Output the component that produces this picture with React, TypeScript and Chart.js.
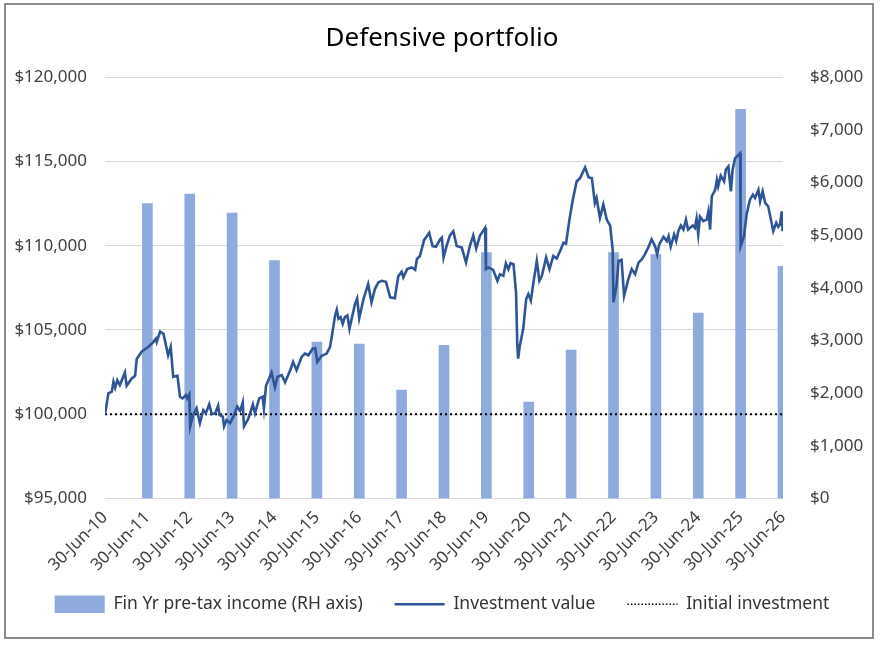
import { useEffect, useRef } from 'react';
import { Chart, registerables } from 'chart.js';

Chart.register(...registerables);

// x positions are years after 30-Jun-10
const tickLabels = [
  '30-Jun-10', '30-Jun-11', '30-Jun-12', '30-Jun-13', '30-Jun-14', '30-Jun-15',
  '30-Jun-16', '30-Jun-17', '30-Jun-18', '30-Jun-19', '30-Jun-20', '30-Jun-21',
  '30-Jun-22', '30-Jun-23', '30-Jun-24', '30-Jun-25', '30-Jun-26',
];

const incomeYears = [1, 2, 3, 4, 5, 6, 7, 8, 9, 10, 11, 12, 13, 14, 15, 16];
const incomeValues = [
  5600, 5780, 5420, 4520, 2970, 2930, 2060, 2910,
  4670, 1830, 2820, 4670, 4630, 3520, 7390, 4410,
];

const valueYears = [
  0.00, 0.08, 0.16, 0.20, 0.24, 0.29, 0.35, 0.47, 0.51, 0.63,
  0.71, 0.75, 0.87, 1.02, 1.14, 1.20, 1.22, 1.30, 1.38, 1.49,
  1.55, 1.61, 1.71, 1.77, 1.83, 1.91, 1.94, 1.99, 2.01, 2.08,
  2.16, 2.24, 2.32, 2.38, 2.46, 2.52, 2.60, 2.67, 2.70, 2.78,
  2.81, 2.87, 2.95, 3.03, 3.12, 3.19, 3.25, 3.28, 3.38, 3.49,
  3.54, 3.64, 3.72, 3.75, 3.80, 3.93, 4.01, 4.07, 4.17, 4.25,
  4.37, 4.44, 4.52, 4.64, 4.72, 4.80, 4.90, 4.96, 5.01, 5.11,
  5.23, 5.31, 5.35, 5.43, 5.47, 5.51, 5.56, 5.61, 5.66, 5.72,
  5.77, 5.82, 5.90, 5.95, 6.00, 6.10, 6.21, 6.29, 6.37, 6.45,
  6.53, 6.63, 6.73, 6.84, 6.92, 7.00, 7.04, 7.13, 7.24, 7.32,
  7.36, 7.43, 7.53, 7.65, 7.73, 7.81, 7.91, 7.95, 7.99, 8.06,
  8.14, 8.22, 8.30, 8.42, 8.52, 8.61, 8.69, 8.76, 8.85, 8.97,
  8.99, 9.05, 9.16, 9.26, 9.32, 9.40, 9.46, 9.52, 9.57, 9.64,
  9.70, 9.73, 9.75, 9.79, 9.87, 9.94, 9.99, 10.05, 10.11, 10.19,
  10.25, 10.31, 10.41, 10.49, 10.58, 10.66, 10.74, 10.82, 10.88, 10.96,
  11.04, 11.13, 11.21, 11.33, 11.41, 11.49, 11.56, 11.60, 11.68, 11.76,
  11.84, 11.92, 11.98, 12.00, 12.07, 12.12, 12.19, 12.25, 12.35, 12.43,
  12.51, 12.59, 12.67, 12.74, 12.82, 12.90, 12.98, 13.03, 13.08, 13.18,
  13.26, 13.30, 13.35, 13.43, 13.48, 13.53, 13.59, 13.65, 13.71, 13.76,
  13.87, 13.92, 13.96, 14.00, 14.04, 14.12, 14.20, 14.24, 14.28, 14.32,
  14.40, 14.44, 14.47, 14.53, 14.61, 14.65, 14.71, 14.77, 14.81, 14.87,
  14.95, 14.99, 15.00, 15.08, 15.14, 15.22, 15.29, 15.34, 15.42, 15.46,
  15.52, 15.58, 15.65, 15.73, 15.77, 15.84, 15.89, 15.93, 15.97, 15.99,
];

const investmentValues = [
  100000, 101240, 101340, 101930, 101570, 102020, 101730, 102480, 101690, 102120,
  102280, 103300, 103730, 103990, 104280, 104480, 104280, 104910, 104770, 103500,
  103990, 102220, 102280, 101040, 100940, 101140, 100940, 101180, 99280, 99960,
  100350, 99470, 100250, 100060, 100590, 100000, 100060, 100510, 99960, 99860,
  99280, 99660, 99470, 99860, 100450, 100190, 100710, 99280, 99720, 100590,
  100060, 100940, 101040, 100350, 101690, 102480, 101600, 102220, 102320, 101890,
  102610, 103110, 102610, 103400, 103600, 103500, 103890, 103930, 103110, 103460,
  103600, 103990, 104580, 105860, 106210, 105660, 105760, 105360, 105760, 105860,
  105070, 105660, 106540, 106880, 105700, 106840, 107720, 106640, 107430, 107820,
  107920, 107860, 106940, 106880, 108180, 108450, 108120, 108610, 108710, 108570,
  109200, 109390, 110330, 110770, 109980, 109940, 110380, 110480, 109300, 109980,
  110610, 110860, 109980, 109890, 109000, 109980, 110610, 109830, 110610, 111060,
  108610, 108710, 108570, 107920, 108310, 108210, 108960, 108610, 108960, 108900,
  107230, 104080, 103300, 104080, 105070, 106840, 107130, 106740, 107820, 109100,
  107920, 108210, 109300, 108610, 109390, 109240, 109690, 110180, 110120, 111550,
  112730, 113810, 114010, 114650, 114070, 114010, 112540, 112830, 111650, 112440,
  111550, 111200, 109790, 106640, 107620, 109100, 109160, 107030, 108020, 108610,
  108310, 109000, 109200, 109490, 109890, 110380, 109980, 109490, 110080, 110530,
  110280, 110570, 109940, 110670, 110280, 110860, 111200, 110960, 111550, 110960,
  111200, 111060, 111600, 110670, 111720, 111460, 111550, 112040, 110960, 112930,
  113320, 113910, 113520, 114150, 113810, 114500, 114700, 113220, 114500, 115190,
  115390, 115490, 109980, 110570, 111850, 112730, 113030, 112830, 113320, 112630,
  113220, 112540, 112340, 111360, 110860, 111360, 111120, 111260, 112040, 110860,
];

const initialYears = [0, 16];
const initialValues = [100000, 100000];

const BAR = '#8faadc';
const LINE = '#2f5597';
const FONT = 'Noto Sans';

const money = (v: number) => '$' + v.toLocaleString('en-US');

// the rotated date labels run under the legend's top padding, as in Excel
const legendShift = {
  id: 'legendShift',
  afterLayout(chart: Chart) {
    const l = chart.legend;
    if (!l) return;
    l.top -= 14;
    l.bottom -= 14;
  },
};

export default function App() {
  const chartRef = useRef<HTMLCanvasElement>(null);

  useEffect(() => {
    if (!chartRef.current) return;

    const chart = new Chart(chartRef.current, {
      type: 'line',
      data: {
        datasets: [
          {
            type: 'bar',
            label: 'Fin Yr pre-tax income (RH axis)',
            data: incomeYears.map((x, i) => ({ x, y: incomeValues[i] })),
            backgroundColor: BAR,
            barThickness: 10,
            yAxisID: 'y1',
            order: 3,
          },
          {
            type: 'line',
            label: 'Investment value',
            data: valueYears.map((x, i) => ({ x, y: investmentValues[i] })),
            borderColor: LINE,
            borderWidth: 2.6,
            pointRadius: 0,
            tension: 0,
            yAxisID: 'y',
            order: 1,
          },
          {
            type: 'line',
            label: 'Initial investment',
            data: initialYears.map((x, i) => ({ x, y: initialValues[i] })),
            borderColor: '#000000',
            borderWidth: 2,
            borderDash: [2, 3],
            pointRadius: 0,
            yAxisID: 'y',
            order: 2,
          },
        ],
      },
      options: {
        responsive: false,
        animation: false,
        layout: { padding: { left: 0, right: 0, top: 0, bottom: 9 } },
        scales: {
          x: {
            type: 'linear',
            min: 0,
            max: 16,
            offset: false,
            grid: { display: false, drawTicks: false },
            border: { display: false },
            ticks: {
              stepSize: 1,
              autoSkip: false,
              minRotation: 45,
              maxRotation: 45,
              padding: 9,
              color: '#404040',
              font: { family: FONT, size: 17 },
              callback: (v) => tickLabels[Number(v)] ?? '',
            },
            afterFit: (s) => {
              s.height = 79;
            },
          },
          y: {
            position: 'left',
            min: 95000,
            max: 120000,
            grid: { color: '#d9d9d9', drawTicks: false },
            border: { display: false },
            ticks: {
              stepSize: 5000,
              padding: 18,
              color: '#404040',
              font: { family: FONT, size: 17 },
              callback: (v) => money(Number(v)),
            },
            afterFit: (s) => {
              s.width = 105;
            },
          },
          y1: {
            position: 'right',
            min: 0,
            max: 8000,
            grid: { display: false, drawTicks: false },
            border: { display: false },
            ticks: {
              stepSize: 1000,
              padding: 27,
              color: '#404040',
              font: { family: FONT, size: 17 },
              callback: (v) => money(Number(v)),
            },
            afterFit: (s) => {
              s.width = 101;
            },
          },
        },
        plugins: {
          title: {
            display: true,
            text: 'Defensive portfolio',
            color: '#000000',
            font: { family: FONT, size: 26, weight: 'normal' },
            padding: { top: 23, bottom: 23 },
          },
          legend: {
            position: 'bottom',
            labels: {
              usePointStyle: true,
              pointStyleWidth: 50,
              boxHeight: 18,
              padding: 32,
              color: '#333333',
              font: { family: FONT, size: 17.5 },
              sort: (a, b) => (a.datasetIndex ?? 0) - (b.datasetIndex ?? 0),
              generateLabels: (c) => {
                const items = Chart.defaults.plugins.legend.labels.generateLabels(c);
                return items.map((it) => {
                  if (it.datasetIndex === 0) {
                    return { ...it, pointStyle: 'rect', fillStyle: BAR, lineWidth: 0, strokeStyle: BAR };
                  }
                  if (it.datasetIndex === 1) {
                    return { ...it, pointStyle: 'line', strokeStyle: LINE, lineWidth: 2.5, lineDash: [] };
                  }
                  return { ...it, pointStyle: 'line', strokeStyle: '#000000', lineWidth: 1.5, lineDash: [1.5, 2] };
                });
              },
            },
          },
          tooltip: { enabled: false },
        },
      },
      plugins: [legendShift],
    });

    return () => chart.destroy();
  }, []);

  return (
    <div style={{ position: 'fixed', left: 0, top: 0, width: 884, height: 646, background: '#ffffff' }}>
      <div
        style={{
          position: 'absolute',
          left: 4,
          top: 3,
          width: 870,
          height: 636,
          border: '2px solid #8c8c8c',
          boxSizing: 'border-box',
        }}
      />
      <canvas ref={chartRef} width={884} height={646} style={{ position: 'absolute', left: 0, top: 0 }} />
    </div>
  );
}
